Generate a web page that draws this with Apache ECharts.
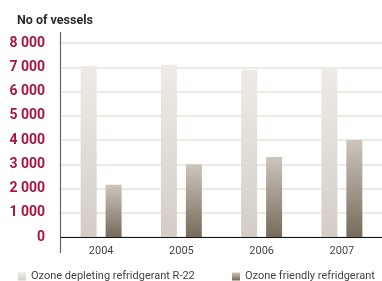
<!DOCTYPE html>
<html>
<head>
<meta charset="utf-8">
<script src="https://cdn.jsdelivr.net/npm/echarts@6/dist/echarts.min.js"></script>
<style>
  html, body { margin: 0; padding: 0; background: #fff; }
  #chart1 { width: 382px; height: 281px; }
</style>
</head>
<body>
<div id="chart1"></div>
<script>
var years = ['2004', '2005', '2006', '2007'];
var depleting = [7050, 7100, 6900, 6950];
var friendly = [2150, 3000, 3300, 4000];
var seriesNames = ['Ozone depleting refridgerant R-22', 'Ozone friendly refridgerant'];

var FONT = 'Roboto, "Liberation Sans", sans-serif';

var myChart = echarts.init(document.getElementById('chart1'));

function grad(top, bottom) {
  return {
    type: 'linear', x: 0, y: 0, x2: 0, y2: 1,
    colorStops: [{ offset: 0, color: top }, { offset: 1, color: bottom }]
  };
}

var legendText = { fontFamily: FONT, fontSize: 11, color: '#444' };

var option = {
  animation: false,
  title: {
    text: 'No of vessels',
    left: 12,
    top: 9,
    textStyle: { fontFamily: FONT, fontSize: 12.5, fontWeight: 'bold', color: '#2b2b2b' }
  },
  legend: [
    {
      left: 13, top: 266, itemWidth: 8, itemHeight: 8, icon: 'rect',
      textStyle: legendText, data: [seriesNames[0]]
    },
    {
      left: 227, top: 266, itemWidth: 8, itemHeight: 8, icon: 'rect',
      textStyle: legendText, data: [seriesNames[1]]
    }
  ],
  graphic: [{
    type: 'line',
    shape: { x1: 60.5, y1: 32, x2: 60.5, y2: 253 },
    style: { stroke: '#666', lineWidth: 1.2 }
  }],
  grid: { left: 61, right: -8, top: 43, bottom: 44 },
  xAxis: {
    type: 'category',
    data: years,
    axisLine: { lineStyle: { color: '#111', width: 1.2 } },
    axisTick: { show: false },
    axisLabel: { fontFamily: FONT, fontSize: 11, color: '#444', margin: 9 }
  },
  yAxis: {
    type: 'value',
    min: 0,
    max: 8000,
    interval: 1000,
    axisLine: { show: false },
    axisTick: { show: false },
    splitLine: { lineStyle: { color: '#e7e2db', width: 1.5 } },
    axisLabel: {
      fontFamily: FONT, fontSize: 14, fontWeight: 'bold', color: '#a8153f', margin: 16,
      formatter: function (v) { return v >= 1000 ? Math.floor(v / 1000) + ' ' + String(v % 1000).padStart(3, '0') : String(v); }
    }
  },
  series: [
    {
      name: seriesNames[0],
      type: 'bar',
      barWidth: 16,
      barGap: '56%',
      itemStyle: { color: grad('#eeebe6', '#d3cdc5') },
      data: depleting
    },
    {
      name: seriesNames[1],
      type: 'bar',
      barWidth: 16,
      itemStyle: { color: grad('#cdc6bd', '#786a5a') },
      data: friendly
    }
  ]
};
myChart.setOption(option);
</script>
</body>
</html>
